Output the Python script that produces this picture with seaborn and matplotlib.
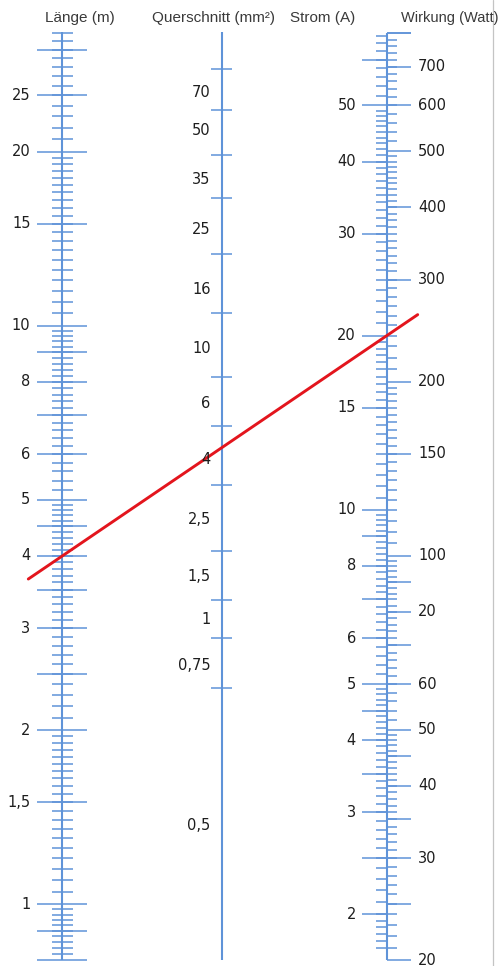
import numpy as np
import matplotlib
matplotlib.use("Agg")
import matplotlib.pyplot as plt
import seaborn as sns

# Nomogramm: Laenge / Querschnitt / Strom / Wirkung (12 V)
laenge_labels = [25, 20, 15, 10, 8, 6, 5, 4, 3, 2, 1.5, 1]
laenge_long_extra = [30, 9, 7, 4.5, 3.5, 2.5, 0.9, 0.8]
laenge_minor = [(0.8, 1.0, 0.02), (1.0, 2.0, 0.05), (2.0, 5.0, 0.1),
                (5.0, 10.0, 0.2), (10.0, 20.0, 0.5), (20.0, 33.0, 1.0)]
laenge_range = (0.8, 32.2)

# Querschnitt scale is hand drawn, positions read as readings on the common scale
quer_labels = ["70", "50", "35", "25", "16", "10", "6", "4", "2,5", "1,5", "1", "0,75", "0,5"]
quer_label_at = [1.403, 1.337, 1.253, 1.166, 1.063, 0.961, 0.866, 0.769,
                 0.665, 0.567, 0.492, 0.413, 0.137]
quer_tick_at = [1.444, 1.373, 1.295, 1.221, 1.124, 1.022, 0.911, 0.826,
                0.724, 0.610, 0.526, 0.461, 0.373]

strom_labels = [50, 40, 30, 20, 15, 10, 8, 6, 5, 4, 3, 2]
strom_long_extra = [60, 9, 7, 4.5, 3.5, 2.5]
strom_minor = [(1.7, 2.0, 0.05), (2.0, 5.0, 0.1), (5.0, 10.0, 0.2),
               (10.0, 20.0, 0.5), (20.0, 50.0, 1.0), (50.0, 67.0, 2.0)]

watt_values = [700, 600, 500, 400, 300, 200, 150, 100, 80, 60, 50, 40, 30, 20]
watt_texts = ["700", "600", "500", "400", "300", "200", "150", "100", "20", "60", "50", "40", "30", "20"]
watt_long_extra = [800, 90, 70, 45, 35, 25]
watt_minor = [(20, 50, 1), (50, 100, 2), (100, 200, 5), (200, 500, 10), (500, 800, 20)]
watt_range = (20, 800)
spannung = 12

# the red reading line
reading_laenge = 4
reading_strom = 20

AMP_SHIFT = 0.3183


def u_len(v):
    return np.log10(np.asarray(v, dtype=float))


def u_amp(v):
    return np.log10(np.asarray(v, dtype=float)) - AMP_SHIFT


def u_watt(v):
    return u_amp(np.asarray(v, dtype=float) / spannung)


def steps(segments):
    out = []
    for a, b, s in segments:
        out.extend(np.round(np.arange(a, b, s), 4)[1:])
    return np.array(out)


def fmt(v):
    return ("%g" % v).replace(".", ",")


BLUE = "#5f93d8"
RED = "#e3151d"
X_LEN, X_QUER, X_AMP = 62.3, 221.7, 386.7
FS = 10.5

sns.set_theme(style="white")
plt.rcParams["font.family"] = ["DejaVu Sans"]

fig = plt.figure(figsize=(4.99, 9.66), dpi=100)
ax = fig.add_axes([0, 0, 1, 1])
ax.set_xlim(0, 499)
ax.set_ylim((904.3 - 966) / 578.6, 904.3 / 578.6)
ax.axis("off")

lw_t = 1.1
# Laenge axis
ax.vlines(X_LEN, u_len(laenge_range[0]), u_len(laenge_range[1]), color=BLUE, lw=1.5)
ax.hlines(u_len(steps(laenge_minor)), X_LEN - 10.5, X_LEN + 10.5, color=BLUE, lw=lw_t)
ax.hlines(u_len(laenge_labels + laenge_long_extra), X_LEN - 25, X_LEN + 25, color=BLUE, lw=lw_t)
for v in laenge_labels:
    ax.text(30.5, u_len(v), fmt(v), ha="right", va="center", fontsize=FS, color="#1e1e1e")

# Querschnitt axis
ax.vlines(X_QUER, u_len(laenge_range[0]), u_len(laenge_range[1]), color=BLUE, lw=1.5)
ax.hlines(quer_tick_at, X_QUER - 10.5, X_QUER + 10.5, color=BLUE, lw=lw_t)
for t, p in zip(quer_labels, quer_label_at):
    ax.text(210.7, p, t, ha="right", va="center", fontsize=FS, color="#1e1e1e")

# Strom / Wirkung axis
ax.vlines(X_AMP, u_watt(watt_range[0]), u_watt(watt_range[1]), color=BLUE, lw=1.5)
ax.hlines(u_amp(steps(strom_minor)), X_AMP - 11, X_AMP, color=BLUE, lw=lw_t)
ax.hlines(u_amp(strom_labels + strom_long_extra), X_AMP - 25, X_AMP, color=BLUE, lw=lw_t)
ax.hlines(u_watt(steps(watt_minor)), X_AMP, X_AMP + 10.5, color=BLUE, lw=lw_t)
ax.hlines(u_watt(watt_values + watt_long_extra + [watt_range[1]]), X_AMP, X_AMP + 24, color=BLUE, lw=lw_t)
for v in strom_labels:
    ax.text(356, u_amp(v), fmt(v), ha="right", va="center", fontsize=FS, color="#1e1e1e")
for v, t in zip(watt_values, watt_texts):
    ax.text(418, u_watt(v), t, ha="left", va="center", fontsize=FS, color="#1e1e1e")

# reading line through 4 m and 20 A, a bit past both outer scales
y0, y1 = float(u_len(reading_laenge)), float(u_amp(reading_strom))
slope = (y1 - y0) / (X_AMP - X_LEN)
xs = np.array([X_LEN - 34, X_AMP + 31])
ys = y0 + slope * (xs - X_LEN)
sns.lineplot(x=xs, y=ys, ax=ax, color=RED, lw=2.1, legend=False)

# right border
ax.axvline(493, color="#c4c4c4", lw=0.9)

head = dict(color="#3a3a3a", va="center", family=["Liberation Sans", "DejaVu Sans"])
fig.text(79.5 / 499, 1 - 18 / 966, "Länge (m)", ha="center", fontsize=11, **head)
fig.text(214 / 499, 1 - 18 / 966, "Querschnitt (mm²)", ha="center", fontsize=11, **head)
fig.text(323 / 499, 1 - 18 / 966, "Strom (A)", ha="center", fontsize=11, **head)
fig.text(401 / 499, 1 - 18 / 966, "Wirkung (Watt)", ha="left", fontsize=10.5, **head)

fig.savefig("out.png", dpi=100, facecolor="white")
